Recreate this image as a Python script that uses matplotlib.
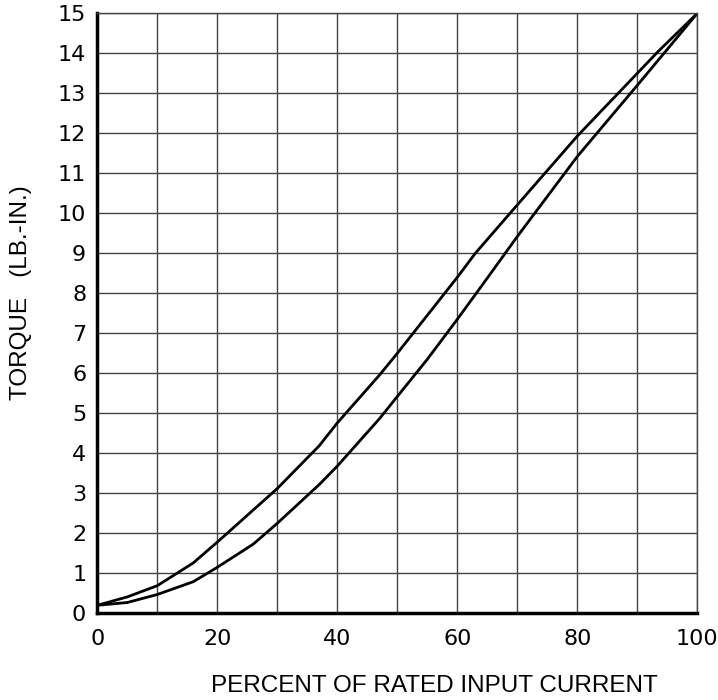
import matplotlib
matplotlib.use("Agg")
import matplotlib.pyplot as plt
import numpy as np

# Upper curve
upper_x = [0, 5, 10, 16, 20, 30, 37, 40, 47, 50, 60, 63, 70, 80, 90, 93.5, 100]
upper_y = [0.2, 0.41, 0.69, 1.26, 1.78, 3.12, 4.19, 4.76, 5.95, 6.5, 8.4, 9.0, 10.21, 11.93, 13.5, 14.05, 15]

# Lower curve
lower_x = [0, 5, 10, 16, 20, 26, 30, 37, 40, 47, 50, 55, 60, 65, 70, 80, 90, 100]
lower_y = [0.2, 0.27, 0.47, 0.79, 1.15, 1.73, 2.25, 3.22, 3.68, 4.86, 5.42, 6.35, 7.35, 8.38, 9.42, 11.42, 13.2, 15]

x_major = [0, 20, 40, 60, 80, 100]
x_grid = list(range(0, 101, 10))
y_ticks = list(range(0, 16))

fig = plt.figure(figsize=(7.18, 7.00), dpi=100)
ax = fig.add_axes([97.3/718, (700-613.3)/700, 600/718, 600/700])

ax.plot(upper_x, upper_y, color="black", lw=2.0, solid_joinstyle="round")
ax.plot(lower_x, lower_y, color="black", lw=2.0, solid_joinstyle="round")

ax.set_xlim(0, 100)
ax.set_ylim(0, 15)
ax.set_xticks(x_major)
ax.set_xticks(x_grid, minor=True)
ax.set_yticks(y_ticks)
ax.grid(True, which="both", color="#444444", lw=1.0)
ax.set_axisbelow(True)
ax.tick_params(which="both", length=0)
ax.tick_params(axis="y", pad=8)
ax.tick_params(axis="x", pad=11)
for lab in ax.get_xticklabels() + ax.get_yticklabels():
    lab.set_fontfamily("DejaVu Sans")
    lab.set_fontsize(16)

ax.spines["left"].set_linewidth(2.5)
ax.spines["bottom"].set_linewidth(2.5)
ax.spines["top"].set_linewidth(1.0)
ax.spines["right"].set_linewidth(1.0)
ax.spines["top"].set_color("#444444")
ax.spines["right"].set_color("#444444")

fig.text(434/718, 1 - 686/700, "PERCENT OF RATED INPUT CURRENT",
         ha="center", va="center", fontsize=17.5, family="Liberation Sans")
fig.text(21/718, 1 - 293/700, "TORQUE   (LB.-IN.)", rotation=90,
         ha="center", va="center", fontsize=17.5, family="Liberation Sans")

fig.savefig("out.png", dpi=100)
